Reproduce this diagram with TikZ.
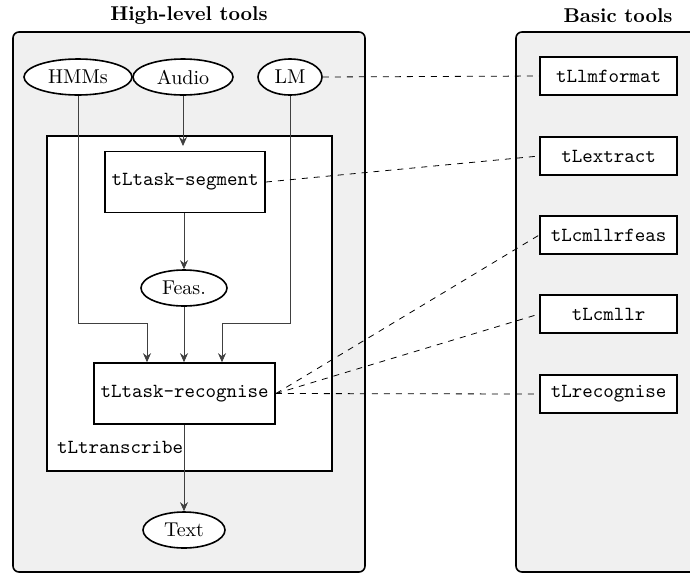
\documentclass[tikz,border=0pt]{standalone}
\usepackage{tikz}
\usetikzlibrary{shapes.geometric, arrows.meta}

\tikzset{
  panel/.style={draw, thick, fill=black!6, rounded corners=3pt},
  data/.style={draw, thick, ellipse, fill=white, inner sep=1pt, minimum height=18pt},
  tool/.style={draw, thick, rectangle, fill=white, font=\ttfamily},
  basic/.style={tool, minimum width=68.5pt, minimum height=19pt},
  flow/.style={-{Stealth[length=4.5pt,width=4pt]}, black!75},
  link/.style={dashed, black}
}

\begin{document}
\begin{tikzpicture}[x=0.5pt, y=-0.5pt]
  \useasboundingbox (0,0) rectangle (690,574);

  % the two panels
  \draw[panel] (13,32) rectangle (365,572);
  \draw[panel] (516,32) rectangle (740,572);
  \node[font=\bfseries] (hltitle) at (189,16) {High-level tools};
  \node[font=\bfseries] (bttitle) at (618,16) {Basic tools};

  % tLtranscribe wrapper
  \draw[thick, fill=white] (47,136) rectangle (332,471);
  \node[anchor=west, font=\ttfamily] (translbl) at (50,447) {tLtranscribe};

  % inputs and outputs
  \node[data, minimum width=54pt] (hmm) at (78,77) {HMMs};
  \node[data, minimum width=50pt] (aud) at (183,77) {Audio};
  \node[data, minimum width=32pt] (lm) at (290,77) {LM};
  \node[data, minimum width=43pt] (feas) at (184,288) {Feas.};
  \node[data, minimum width=41pt] (txt) at (184,530) {Text};

  % high-level tools
  \node[tool, minimum width=76pt, minimum height=30.5pt] (seg) at (185,182) {tLtask-segment};
  \node[tool, minimum width=86.5pt, minimum height=30.5pt] (rec) at (184.5,393.5) {tLtask-recognise};

  % basic tools
  \node[basic] (lmf) at (608.5,76) {tLlmformat};
  \node[basic] (ext) at (608.5,156) {tLextract};
  \node[basic] (cmf) at (608.5,235) {tLcmllrfeas};
  \node[basic] (cml) at (608.5,314) {tLcmllr};
  \node[basic] (rcg) at (608.5,394) {tLrecognise};

  % data flow
  \coordinate (jl) at (147,323);
  \coordinate (jr) at (222,323);
  \draw[flow] (aud.south) -- ([yshift=-5pt]aud |- 0,136);
  \draw[flow] (seg.south -| feas) -- (feas.north);
  \draw[flow] (feas.south) -- (rec.north -| feas);
  \draw[flow] (hmm.south) |- (jl) -- (jl |- rec.north);
  \draw[flow] (lm.south) |- (jr) -- (jr |- rec.north);
  \draw[flow] (rec.south -| txt) -- (txt.north);

  % which basic tools are used
  \draw[link] (lm.east) -- (lmf.west);
  \draw[link] (seg.east) -- (ext.west);
  \draw[link] (rec.east) -- (cmf.west);
  \draw[link] (rec.east) -- (cml.west);
  \draw[link] (rec.east) -- (rcg.west);
\end{tikzpicture}
\end{document}
